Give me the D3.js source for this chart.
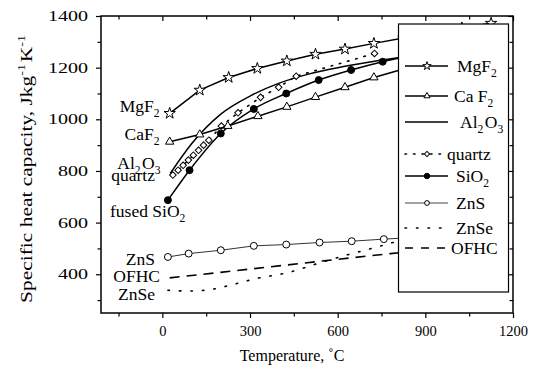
<!DOCTYPE html>
<html>
<head>
<meta charset="utf-8">
<script src="https://cdn.jsdelivr.net/npm/d3@7"></script>
<style>
  body { margin: 0; background: #fff; }
  svg { display: block; font-family: "Liberation Serif", "Times New Roman", serif; }
  .axis text { font-family: "Liberation Serif", "Times New Roman", serif; font-size: 14.5px; fill: #000; }
  .axis path, .axis line { stroke: #000; }
</style>
</head>
<body>
<svg id="svg" width="536" height="380"></svg>
<script>
// DATA (temperature in C, specific heat in J/kg/K)
var mgf2T  = [25, 128, 227, 325, 426, 524, 625, 724, 825, 925, 1025, 1125];
var mgf2Cp = [1023, 1113, 1162, 1197, 1226, 1252, 1272, 1294, 1315, 1335, 1354, 1372];

var caf2T  = [25, 128, 224, 327, 426, 524, 625, 724, 825, 925, 1025, 1125];
var caf2Cp = [913, 941, 974, 1012, 1048, 1086, 1124, 1162, 1195, 1225, 1255, 1285];

var al2o3T  = [27, 100, 200, 300, 400, 500, 600, 700, 800, 900, 1000, 1100];
var al2o3Cp = [790, 905, 1020, 1090, 1140, 1175, 1200, 1220, 1237, 1252, 1265, 1277];

var quartzT  = [36, 54, 71, 89, 106, 124, 141, 159, 202, 259, 336, 398, 458, 726];
var quartzCp = [784, 803, 822, 842, 861, 880, 900, 919, 974, 1025, 1085, 1124, 1167, 1255];

var sio2T  = [19, 93, 200, 313, 424, 535, 646, 754, 865, 975, 1085];
var sio2Cp = [687, 803, 945, 1040, 1100, 1152, 1191, 1223, 1250, 1275, 1298];

var znsT  = [19, 90, 200, 313, 424, 538, 648, 758, 870, 980, 1090];
var znsCp = [467, 480, 493, 510, 515, 523, 528, 536, 543, 550, 557];

var znseT  = [19, 93, 160, 230, 320, 424, 550, 629, 700, 783, 900, 1000];
var znseCp = [338, 335, 340, 357, 383, 405, 448, 474, 495, 521, 555, 585];

var ofhcT  = [25, 300, 600, 780, 1000];
var ofhcCp = [386, 420, 458, 480, 505];

var xMajor = [0, 300, 600, 900, 1200];
var xMinor = [-150, 150, 450, 750, 1050];
var yMajor = [400, 600, 800, 1000, 1200, 1400];
var yMinor = [300, 500, 700, 900, 1100, 1300];

// SETUP
var svg = d3.select("#svg"),
  pL = 101, pR = 513, pT = 16, pB = 313;

var x = d3.scaleLinear().domain([-210, 1200]).range([pL, pR]),
  y = d3.scaleLinear().domain([250, 1400]).range([pB, pT]);

function zip(t, c) { return t.map(function (d, i) { return [d, c[i]]; }); }

// text with _2 subscripts and ^-1 superscripts
function rich(sel, str, size) {
  var parts = str.split(/(_\d|\^-?\d)/).filter(function (s) { return s.length; });
  parts.forEach(function (p) {
    if (p[0] == "_") {
      sel.append("tspan").attr("dy", size * 0.28).attr("font-size", size * 0.66).text(p.slice(1));
      sel.append("tspan").attr("dy", -size * 0.28).text("\u200a");
    } else if (p[0] == "^") {
      sel.append("tspan").attr("dy", -size * 0.4).attr("font-size", size * 0.66).text(p.slice(1));
      sel.append("tspan").attr("dy", size * 0.4).text("\u200a");
    } else {
      sel.append("tspan").text(p);
    }
  });
  return sel;
}

// AXES
function axisPair(axis, scale, major, minor, len, tr, labels) {
  var g1 = svg.append("g").attr("class", "axis").attr("transform", tr)
    .call(axis(scale).tickValues(major).tickSize(len).tickSizeOuter(0).tickPadding(labels ? 8 : 0)
      .tickFormat(labels ? d3.format("d") : ""));
  g1.select(".domain").remove();
  var g2 = svg.append("g").attr("class", "axis").attr("transform", tr)
    .call(axis(scale).tickValues(minor).tickSize(len * 0.7).tickSizeOuter(0).tickFormat(""));
  g2.select(".domain").remove();
  return g1;
}
axisPair(d3.axisBottom, x, xMajor, xMinor, 5, "translate(0," + pB + ")", true)
  .selectAll("text").attr("font-size", 14);
axisPair(d3.axisTop, x, xMajor, xMinor, -5, "translate(0," + pT + ")", false);
// y tick labels in the picture are drawn wide
axisPair(d3.axisLeft, y, yMajor, yMinor, 5, "translate(" + pL + ",0)", true)
  .selectAll("text").attr("x", -13 / 1.38).attr("transform", "scale(1.38,1)");
axisPair(d3.axisRight, y, yMajor, yMinor, -5, "translate(" + pR + ",0)", false);
svg.selectAll(".axis line").attr("stroke-width", 1.2);

svg.append("rect")
  .attr("x", pL).attr("y", pT)
  .attr("width", pR - pL).attr("height", pB - pT)
  .attr("fill", "none").attr("stroke", "#000").attr("stroke-width", 1.5);

// SERIES
var lineLin = d3.line().x(function (d) { return x(d[0]); }).y(function (d) { return y(d[1]); });
var lineSmooth = d3.line().curve(d3.curveMonotoneX)
  .x(function (d) { return x(d[0]); }).y(function (d) { return y(d[1]); });

var plot = svg.append("g");

function drawLine(data, gen, width, dash, color) {
  plot.append("path").datum(data)
    .attr("fill", "none").attr("stroke", color || "#000")
    .attr("stroke-width", width)
    .attr("stroke-dasharray", dash || null)
    .attr("stroke-linecap", dash && dash.indexOf("1.5") == 0 ? "round" : "butt")
    .attr("d", gen);
}

function drawMarks(data, type, size, fill, rot) {
  plot.selectAll(null).data(data).enter().append("path")
    .attr("transform", function (d) { return "translate(" + x(d[0]) + "," + y(d[1]) + ")" + (rot ? " rotate(45)" : ""); })
    .attr("d", d3.symbol().type(type).size(size))
    .attr("fill", fill).attr("stroke", "#000").attr("stroke-width", 1);
}

var ofhc = zip(ofhcT, ofhcCp), znse = zip(znseT, znseCp), zns = zip(znsT, znsCp),
  sio2 = zip(sio2T, sio2Cp), quartz = zip(quartzT, quartzCp), al2o3 = zip(al2o3T, al2o3Cp),
  caf2 = zip(caf2T, caf2Cp), mgf2 = zip(mgf2T, mgf2Cp);

drawLine(ofhc, lineLin, 1.6, "10,7");
drawLine(znse, lineSmooth, 1.6, "1.5,10");
drawLine(zns, lineLin, 1, null, "#333");
drawMarks(zns, d3.symbolCircle, 38, "#fff");
drawLine(al2o3, lineSmooth, 1.5);
drawLine(quartz, lineLin, 1.6, "1.5,7");
drawMarks(quartz, d3.symbolSquare, 22, "#fff", true);
drawLine(sio2, lineSmooth, 1.5);
drawMarks(sio2, d3.symbolCircle, 38, "#000");
drawLine(caf2, lineLin, 1.5);
drawMarks(caf2, d3.symbolTriangle, 30, "#fff");
drawLine(mgf2, lineLin, 1.5);
drawMarks(mgf2, d3.symbolStar, 40, "#fff");

// direct labels
var labs = [
  ["MgF_2", 161, 112, "end"],
  ["CaF_2", 161, 140, "end"],
  ["Al_2O_3", 162, 169, "end"],
  ["quartz", 155, 181, "end"],
  ["fused SiO_2", 110, 217, "start"],
  ["ZnS", 155, 265, "end"],
  ["OFHC", 160, 282, "end"],
  ["ZnSe", 155, 300, "end"]
];
labs.forEach(function (l) {
  rich(svg.append("text").attr("x", l[1]).attr("y", l[2]).attr("text-anchor", l[3])
    .attr("font-size", 17.5), l[0], 17.5);
});

// LEGEND
var lg = svg.append("g");
lg.append("rect").attr("x", 398.5).attr("y", 24).attr("width", 110).attr("height", 268)
  .attr("fill", "#fff").attr("stroke", "#000").attr("stroke-width", 1.2);

var legItems = [
  { name: "MgF_2", y: 66, tx: 457, dash: null, w: 1.5, sym: d3.symbolStar, size: 22, fill: "#fff" },
  { name: "Ca F_2", y: 96, tx: 454, dash: null, w: 1.5, sym: d3.symbolTriangle, size: 16, fill: "#fff" },
  { name: "Al_2O_3", y: 122, tx: 460, dash: null, w: 1.5 },
  { name: "quartz", y: 154, tx: 447, dash: "1.5,7", w: 1.6, sym: d3.symbolSquare, size: 14, fill: "#fff", rot: true },
  { name: "SiO_2", y: 176, tx: 456, dash: null, w: 1.5, sym: d3.symbolCircle, size: 24, fill: "#000" },
  { name: "ZnS", y: 203, tx: 456, dash: null, w: 1, color: "#444", sym: d3.symbolCircle, size: 18, fill: "#fff" },
  { name: "ZnSe", y: 228, tx: 456, dash: "1.5,10", w: 1.6 },
  { name: "OFHC", y: 248, tx: 451, dash: "8,8", w: 1.6 }
];
legItems.forEach(function (d) {
  lg.append("line").attr("x1", 405).attr("x2", d.dash ? 447 : 448).attr("y1", d.y).attr("y2", d.y)
    .attr("stroke", d.color || "#000").attr("stroke-width", d.w)
    .attr("stroke-dasharray", d.dash)
    .attr("stroke-linecap", d.dash && d.dash.indexOf("1.5") == 0 ? "round" : "butt");
  if (d.sym) {
    lg.append("path")
      .attr("transform", "translate(427," + d.y + ")" + (d.rot ? " rotate(45)" : ""))
      .attr("d", d3.symbol().type(d.sym).size(d.size))
      .attr("fill", d.fill).attr("stroke", "#000").attr("stroke-width", 1);
  }
  rich(lg.append("text").attr("x", d.tx).attr("y", d.y + 6).attr("font-size", 17.5), d.name, 17.5);
});

// AXIS TITLES
svg.append("text").attr("x", 292).attr("y", 361).attr("text-anchor", "middle")
  .attr("font-size", 16).text("Temperature, \u02daC");
rich(svg.append("text").attr("transform", "translate(32,168) rotate(-90) scale(1.3,1)")
  .attr("text-anchor", "middle").attr("font-size", 16.5), "Specific heat capacity, Jkg^-1K^-1", 16.5);
</script>
</body>
</html>
